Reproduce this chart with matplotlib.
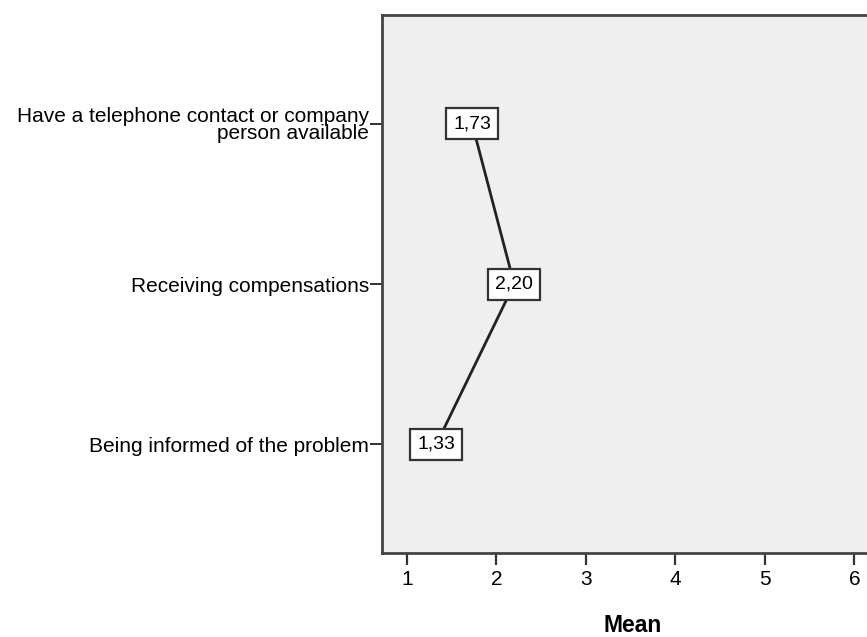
import matplotlib

matplotlib.use("Agg")
import matplotlib.pyplot as plt

categories = [
    "Being informed of the problem",
    "Receiving compensations",
    "Have a telephone contact or company\nperson available",
]
means = [1.33, 2.20, 1.73]
mean_labels = ["1,33", "2,20", "1,73"]
xticks = [1, 2, 3, 4, 5, 6]

plt.rcParams["font.family"] = ["Liberation Sans", "DejaVu Sans"]

fig = plt.figure(figsize=(8.67, 6.37), dpi=100)
# right edge of the frame sits outside the picture, as in the reference
ax = fig.add_axes([382 / 867, (637 - 552.7) / 637, 502 / 867, (552.7 - 14.5) / 637])
ax.set_facecolor("#efefef")

ypos = list(range(len(categories)))
ax.plot(means, ypos, color="#222222", lw=2, zorder=2)
for x, y, lab in zip(means, ypos, mean_labels):
    ax.text(x, y, lab, ha="center", va="center", fontsize=14, zorder=3,
            bbox=dict(boxstyle="square,pad=0.36", fc="white", ec="#333333", lw=1.6))

ax.set_xlim(0.724, 6.33)
ax.set_ylim(-0.675, 2.68)
ax.set_xticks(xticks)
ax.set_yticks(ypos)
ax.set_yticklabels(categories, fontsize=15, linespacing=0.92)
ax.tick_params(axis="x", direction="out", length=8.5, width=1.6, color="#333333",
               labelsize=15, pad=4)
ax.tick_params(axis="y", direction="out", length=8.5, width=1.4, color="#333333", pad=1)
ax.set_xlabel("Mean", fontsize=16.5, fontweight="bold", labelpad=18)

for side in ["left", "bottom", "top"]:
    ax.spines[side].set_color("#444444")
    ax.spines[side].set_linewidth(2)
ax.spines["right"].set_visible(False)

fig.savefig("out.png", dpi=100, facecolor="white")
